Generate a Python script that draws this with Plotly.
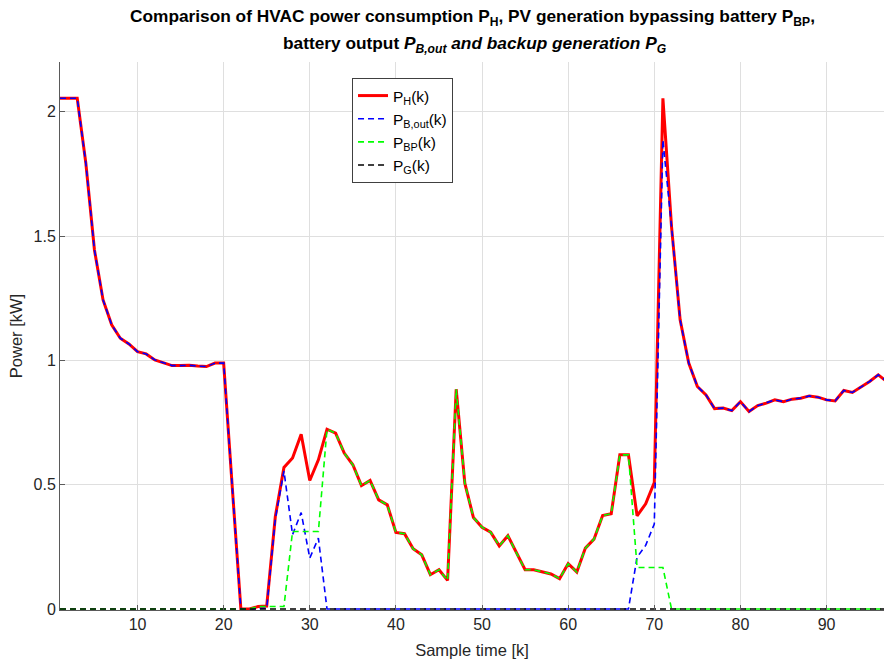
import plotly.graph_objects as go

k = list(range(1, 98))

P_H = [2.054, 2.054, 2.054, 1.793, 1.444, 1.243, 1.143, 1.089, 1.066, 1.035,
       1.026, 1.002, 0.991, 0.979, 0.979, 0.980, 0.977, 0.975, 0.989, 0.989,
       0.490, 0.000, 0.000, 0.010, 0.012, 0.372, 0.569, 0.607, 0.703, 0.517,
       0.600, 0.723, 0.707, 0.627, 0.580, 0.496, 0.517, 0.439, 0.419, 0.308,
       0.303, 0.242, 0.218, 0.138, 0.158, 0.115, 0.884, 0.506, 0.368, 0.329,
       0.309, 0.254, 0.295, 0.225, 0.158, 0.158, 0.149, 0.141, 0.122, 0.182,
       0.149, 0.245, 0.281, 0.376, 0.383, 0.620, 0.620, 0.375, 0.423, 0.509,
       2.054, 1.538, 1.163, 0.989, 0.895, 0.861, 0.806, 0.808, 0.798, 0.834,
       0.794, 0.818, 0.828, 0.841, 0.834, 0.844, 0.848, 0.857, 0.852, 0.841,
       0.837, 0.879, 0.871, 0.892, 0.915, 0.942, 0.915]

P_Bout = [2.054, 2.054, 2.054, 1.793, 1.444, 1.243, 1.143, 1.089, 1.066, 1.035,
          1.026, 1.002, 0.991, 0.979, 0.979, 0.980, 0.977, 0.975, 0.989, 0.989,
          0.490, 0.000, 0.000, 0.003, 0.003, 0.362, 0.555, 0.299, 0.388, 0.205,
          0.285, 0.000, 0.000, 0.000, 0.000, 0.000, 0.000, 0.000, 0.000, 0.000,
          0.000, 0.000, 0.000, 0.000, 0.000, 0.000, 0.000, 0.000, 0.000, 0.000,
          0.000, 0.000, 0.000, 0.000, 0.000, 0.000, 0.000, 0.000, 0.000, 0.000,
          0.000, 0.000, 0.000, 0.000, 0.000, 0.000, 0.000, 0.208, 0.256, 0.342,
          1.887, 1.538, 1.163, 0.989, 0.895, 0.861, 0.806, 0.808, 0.798, 0.834,
          0.794, 0.818, 0.828, 0.841, 0.834, 0.844, 0.848, 0.857, 0.852, 0.841,
          0.837, 0.879, 0.871, 0.892, 0.915, 0.942, 0.915]

P_BP = [0.000, 0.000, 0.000, 0.000, 0.000, 0.000, 0.000, 0.000, 0.000, 0.000,
        0.000, 0.000, 0.000, 0.000, 0.000, 0.000, 0.000, 0.000, 0.000, 0.000,
        0.000, 0.000, 0.000, 0.010, 0.010, 0.010, 0.010, 0.312, 0.312, 0.312,
        0.312, 0.723, 0.707, 0.627, 0.580, 0.496, 0.517, 0.439, 0.419, 0.308,
        0.303, 0.242, 0.218, 0.138, 0.158, 0.115, 0.884, 0.506, 0.368, 0.329,
        0.309, 0.254, 0.295, 0.225, 0.158, 0.158, 0.149, 0.141, 0.122, 0.182,
        0.149, 0.245, 0.281, 0.376, 0.383, 0.620, 0.620, 0.167, 0.167, 0.167,
        0.167, 0.000, 0.000, 0.000, 0.000, 0.000, 0.000, 0.000, 0.000, 0.000,
        0.000, 0.000, 0.000, 0.000, 0.000, 0.000, 0.000, 0.000, 0.000, 0.000,
        0.000, 0.000, 0.000, 0.000, 0.000, 0.000, 0.000]

P_G = [0.0] * 97

x_ticks = [10, 20, 30, 40, 50, 60, 70, 80, 90]
y_ticks = [0, 0.5, 1, 1.5, 2]
y_tick_labels = ["0", "0.5", "1", "1.5", "2"]

title_line1 = "<b>Comparison of HVAC power consumption P<sub>H</sub>, PV generation bypassing battery P<sub>BP</sub>,</b>"
title_line2 = "<b>battery output <i>P<sub>B,out</sub> and backup generation P<sub>G</sub></i></b>"

FONT = "Liberation Sans, Arial, Helvetica, sans-serif"
TXT = "#262626"
AX = "#5a5a5a"

fig = go.Figure()
fig.add_trace(go.Scatter(x=k, y=P_H, mode="lines", name="P<sub>H</sub>(k)",
                         line=dict(color="#ff0000", width=3)))
fig.add_trace(go.Scatter(x=k, y=P_Bout, mode="lines", name="P<sub>B,out</sub>(k)",
                         line=dict(color="#0000ff", width=1.6, dash="6px,4px")))
fig.add_trace(go.Scatter(x=k, y=P_BP, mode="lines", name="P<sub>BP</sub>(k)",
                         line=dict(color="#00ff00", width=1.6, dash="6px,4px")))
fig.add_trace(go.Scatter(x=k, y=P_G, mode="lines", name="P<sub>G</sub>(k)",
                         line=dict(color="#000000", width=1.6, dash="6px,4px")))

fig.add_annotation(text=title_line1, xref="paper", yref="paper", x=0.501, y=1.0812,
                   xanchor="center", yanchor="middle", showarrow=False,
                   font=dict(family=FONT, size=17.3, color="#000000"))
fig.add_annotation(text=title_line2, xref="paper", yref="paper", x=0.504, y=1.0319,
                   xanchor="center", yanchor="middle", showarrow=False,
                   font=dict(family=FONT, size=17.3, color="#000000"))

fig.update_layout(
    width=884, height=661,
    margin=dict(l=60, r=0, t=62, b=51),
    paper_bgcolor="white", plot_bgcolor="white",
    font=dict(family=FONT, size=16, color=TXT),
    showlegend=True,
    legend=dict(x=0.3544, y=0.9708, xanchor="left", yanchor="top",
                bgcolor="white", bordercolor="#404040", borderwidth=1,
                font=dict(family=FONT, size=15.5, color="#000000"),
                tracegroupgap=0),
    xaxis=dict(range=[1, 96.67], tickmode="array", tickvals=x_ticks,
               showgrid=True, gridcolor="#dfdfdf", gridwidth=1,
               showline=True, linecolor=AX, linewidth=1, mirror=False,
               ticks="inside", ticklen=5, tickcolor=AX,
               zeroline=False,
               title=dict(text="Sample time [k]", font=dict(size=16.5, color=TXT), standoff=12),
               tickfont=dict(size=16, color=TXT)),
    yaxis=dict(range=[-0.004, 2.2], tickmode="array", tickvals=y_ticks,
               ticktext=y_tick_labels,
               showgrid=True, gridcolor="#dfdfdf", gridwidth=1,
               showline=True, linecolor=AX, linewidth=1, mirror=False,
               ticks="inside", ticklen=5, tickcolor=AX,
               zeroline=False,
               title=dict(text="Power [kW]", font=dict(size=16.5, color=TXT), standoff=6),
               tickfont=dict(size=16, color=TXT)),
)

# remove the browser's default 8px body margin so the 884x661 figure fills the window exactly
fig.write_html("out.html",
               config={"displayModeBar": False},
               post_script="document.body.style.margin='0';document.body.style.overflow='hidden';")
